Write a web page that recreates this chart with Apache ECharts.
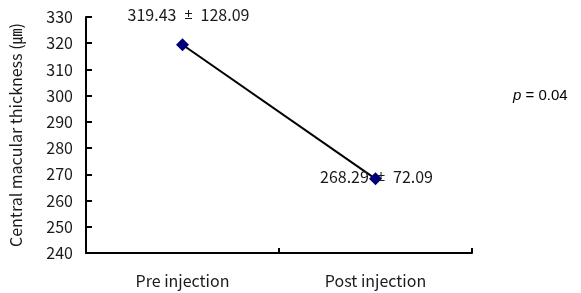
<!DOCTYPE html>
<html>
<head>
<meta charset="utf-8">
<script src="https://cdn.jsdelivr.net/npm/echarts@6/dist/echarts.min.js"></script>
<style>
html, body { margin: 0; padding: 0; background: #fff; }
#chart { width: 581px; height: 293px; }
</style>
</head>
<body>
<div id="chart"></div>
<script>
const categories = ["Pre injection", "Post injection"];
const meanValues = [319.43, 268.29];
const sdValues = [128.09, 72.09];
const yTicks = [240, 330, 10]; // min, max, step
const pText = "0.04";

const fontFam = "'Noto Sans CJK KR', 'Noto Sans', sans-serif";
let chart = echarts.init(document.getElementById("chart"));

// mean ± sd, the ± in a latin font so it is not full width
let labels = meanValues.map((v, i) => "{n|" + v.toFixed(2) + "}{pm|  ±  }{n|" + sdValues[i].toFixed(2) + "}");

// label placement per point
let labelCfg = [
    { position: "top", distance: 15, offset: [6, 0] },
    { position: "inside", offset: [1, -2] },
];

let option = {
    animation: false,
    grid: { left: 83, right: 109, top: 17, bottom: 40 },
    xAxis: {
        type: "category",
        data: categories,
        boundaryGap: true,
        axisLine: { lineStyle: { color: "#000", width: 2 } },
        axisTick: { show: true, inside: true, length: 5, lineStyle: { color: "#000", width: 2 } },
        axisLabel: { color: "#1a1a1a", fontSize: 16, fontFamily: fontFam, margin: 20 },
    },
    yAxis: {
        type: "value",
        min: yTicks[0],
        max: yTicks[1],
        interval: yTicks[2],
        name: "Central macular thickness (㎛)",
        nameLocation: "middle",
        nameGap: 62,
        nameTextStyle: { color: "#1a1a1a", fontSize: 16, fontFamily: fontFam },
        splitLine: { show: false },
        axisLine: { show: true, lineStyle: { color: "#000", width: 2 } },
        axisTick: { show: true, inside: true, length: 6, lineStyle: { color: "#000", width: 2 } },
        axisLabel: { color: "#1a1a1a", fontSize: 16, fontFamily: fontFam, margin: 13 },
    },
    series: [{
        type: "line",
        data: meanValues.map((v, i) => ({
            value: v,
            label: labelCfg[i],
        })),
        symbol: "diamond",
        symbolSize: 13,
        itemStyle: { color: "#00007f" },
        lineStyle: { color: "#000", width: 2 },
        z: 3,
        label: {
            show: true,
            formatter: (p) => labels[p.dataIndex],
            rich: {
                n: { color: "#1a1a1a", fontSize: 16, fontFamily: fontFam },
                pm: { color: "#1a1a1a", fontSize: 15, fontFamily: "'Noto Sans', sans-serif" },
            },
        },
    }],
    graphic: [{
        type: "text",
        left: 513,
        top: 88,
        style: {
            rich: {
                i: { fontStyle: "italic", fontSize: 15, fontFamily: "'Liberation Sans', sans-serif", fill: "#000" },
                n: { fontSize: 15, fontFamily: "'Liberation Sans', sans-serif", fill: "#000" },
            },
            text: "{i|p}{n| = " + pText + "}",
        },
    }],
};
chart.setOption(option);
</script>
</body>
</html>
